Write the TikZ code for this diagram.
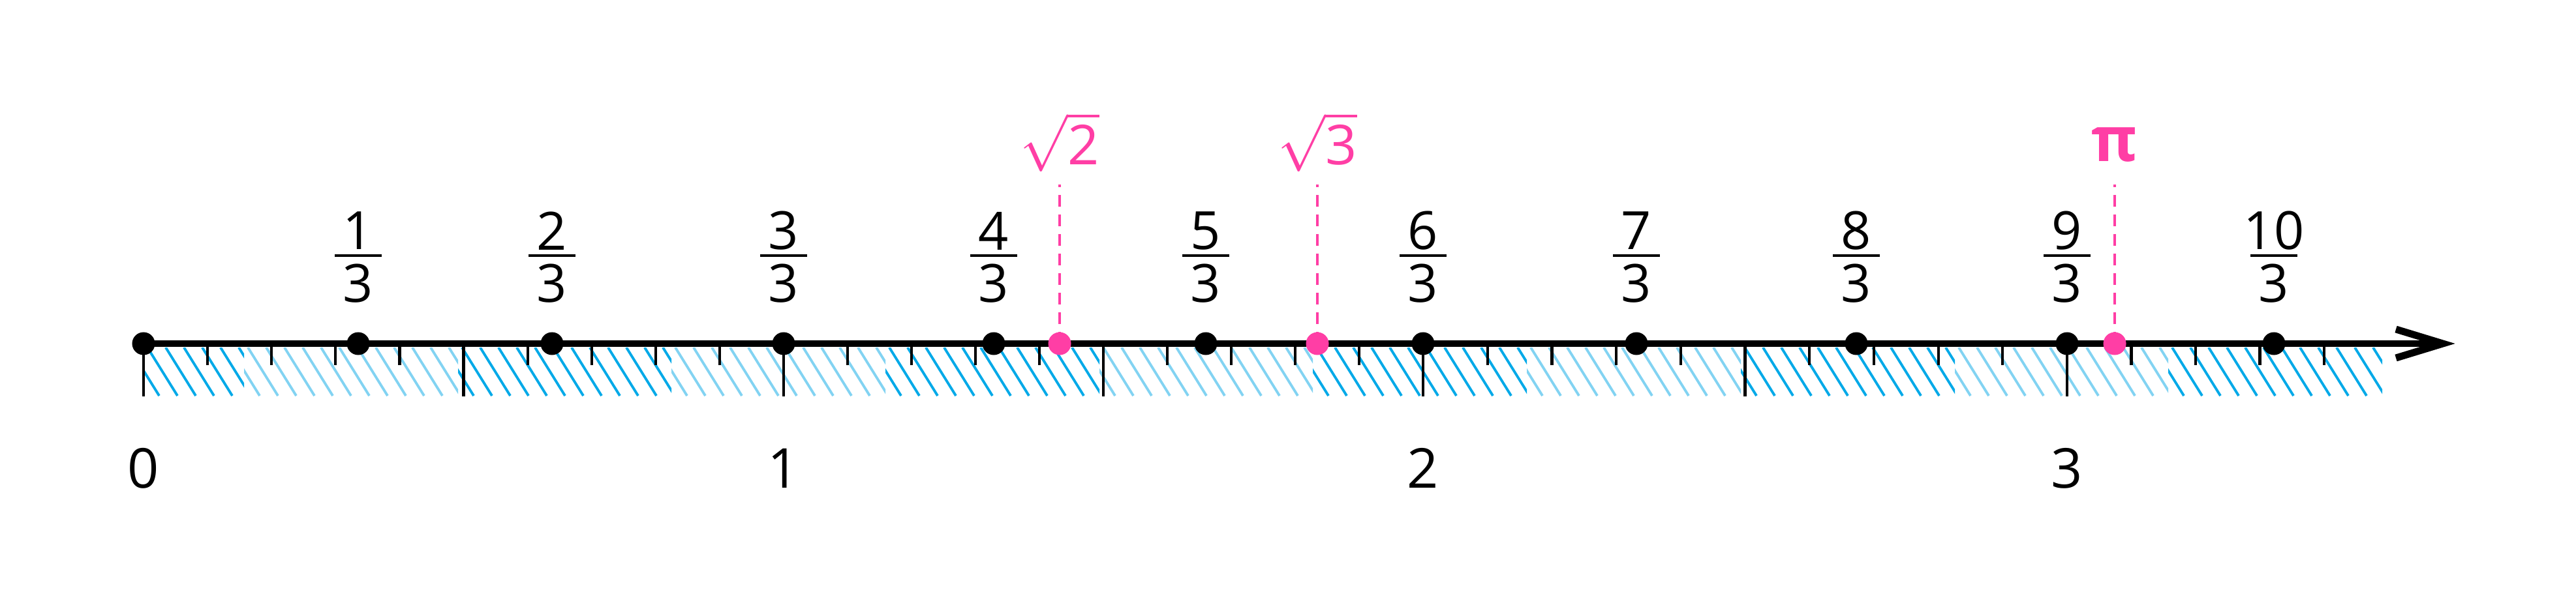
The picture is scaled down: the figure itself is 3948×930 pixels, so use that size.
\documentclass[tikz,border=0pt]{standalone}
\usepackage{fontspec}
\setmainfont{Open Sans}
\definecolor{pinkc}{HTML}{FF3EA5}
\definecolor{darkh}{HTML}{00A9E8}
\definecolor{lighth}{HTML}{82D3F2}
\begin{document}
\begin{tikzpicture}[x=0.01cm,y=-0.01cm,
  axis/.style={line width=3.1pt,black},
  tickS/.style={line width=1.2pt,black},
  dot/.style={circle,fill=black,inner sep=0pt,minimum size=0.35cm},
  pdot/.style={circle,fill=pinkc,inner sep=0pt,minimum size=0.35cm},
  num/.style={font=\fontsize{23}{27}\selectfont,inner sep=0pt},
  intl/.style={font=\fontsize{24}{28}\selectfont,inner sep=0pt},
  plab/.style={font=\fontsize{24}{28}\selectfont,text=pinkc,inner sep=0pt},
  pdash/.style={pinkc,line width=1.2pt,dash pattern=on 0.18cm off 0.12cm}]
\useasboundingbox (0,0) rectangle (3948,930);
% hatch segments
\foreach \a/\b/\c in {220/374/darkh,374/702/lighth,702/1029/darkh,1029/1357/lighth,1357/1685/darkh,1685/2012/lighth,2012/2340/darkh,2340/2668/lighth,2668/2996/darkh,2996/3323/lighth,3323/3651/darkh}{
  \begin{scope}
    \clip (\a,533) rectangle (\b,607);
    \foreach \k in {0,...,13}{
      \draw[\c,line width=1.1pt] ({\a-50+\k*28},533) -- ({\a-50+\k*28+46},607);
    }
  \end{scope}
}
% ticks
\foreach \s/\u in {220/981,1201/980,2181/987}{
  \foreach \t in {1,2,3,4,6,7,8,9}{
    \draw[tickS] ({\s+\t*\u/10},527) -- ({\s+\t*\u/10},560);
  }
  \draw[tickS] (\s,527) -- (\s,608);
  \draw[tickS] ({\s+\u/2},527) -- ({\s+\u/2},608);
}
\draw[tickS] (3168,527) -- (3168,608);
\foreach \t in {1,2,3,4}{
  \draw[tickS] ({3168+\t*98.5},527) -- ({3168+\t*98.5},560);
}
% axis
\coordinate (start) at (220,527);
\coordinate (tip) at (3744,527);
\draw[axis] (start) -- (tip);
\draw[axis,line join=miter] (3672,505) -- (tip) -- (3672,549);
% dots and fraction labels
\foreach \n/\x in {1/549,2/846,3/1201,4/1523,5/1848,6/2181,7/2508,8/2845,9/3168,10/3485}{
  \node[dot] (d\n) at (\x,527) {};
  \node[num] (n\n) at (\x,354) {\n};
  \draw[line width=1.3pt] (\x-36,392) -- (\x+36,392);
  \node[num] (m\n) at (\x,435) {3};
}
\node[dot] (d0) at (220,527) {};
% integer labels
\node[intl] (l0) at (220,718) {0};
\node[intl] (l1) at (1201,718) {1};
\node[intl] (l2) at (2181,718) {2};
\node[intl] (l3) at (3168,718) {3};
% pink
\coordinate (s2top) at (1624,283);
\coordinate (s3top) at (2019,283);
\coordinate (pitop) at (3241,283);
\draw[pdash] (1624,527) -- (s2top);
\draw[pdash] (2019,527) -- (s3top);
\draw[pdash] (3241,527) -- (pitop);
\node[pdot] (ps2) at (1624,527) {};
\node[pdot] (ps3) at (2019,527) {};
\node[pdot] (ppi) at (3241,527) {};
\node[plab] (t2) at (1624,218) {$\sqrt{\hbox{\fontsize{24}{28}\selectfont 2}}$};
\node[plab] (t3) at (2019,218) {$\sqrt{\hbox{\fontsize{24}{28}\selectfont 3}}$};
\node[plab,font=\fontsize{27}{30}\selectfont\bfseries] (tpi) at (3241,222) {π};
\end{tikzpicture}
\end{document}
